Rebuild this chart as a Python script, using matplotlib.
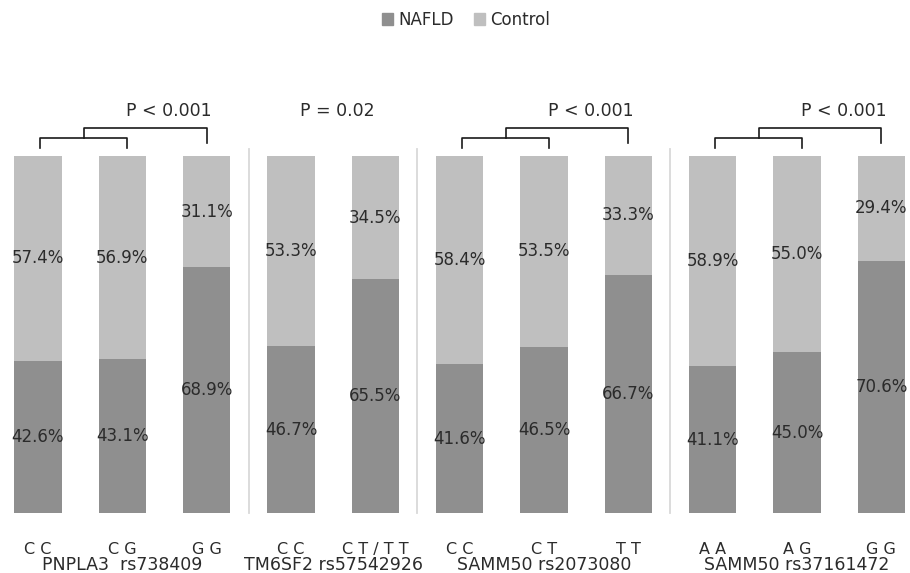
import numpy as np
import matplotlib.pyplot as plt
from matplotlib.patches import Patch

genotypes = ['C C', 'C G', 'G G', 'C C', 'C T / T T', 'C C', 'C T', 'T T', 'A A', 'A G', 'G G']
nafld = [42.6, 43.1, 68.9, 46.7, 65.5, 41.6, 46.5, 66.7, 41.1, 45.0, 70.6]
control = [57.4, 56.9, 31.1, 53.3, 34.5, 58.4, 53.5, 33.3, 58.9, 55.0, 29.4]
snps = ['PNPLA3  rs738409', 'TM6SF2 rs57542926', 'SAMM50 rs2073080', 'SAMM50 rs37161472']
group_sizes = [3, 2, 3, 3]
p_values = ['P < 0.001', 'P = 0.02', 'P < 0.001', 'P < 0.001']

c_nafld = '#8f8f8f'
c_control = '#bfbfbf'
c_text = '#2b2b2b'

plt.rcParams['font.family'] = 'DejaVu Sans'

fig = plt.figure(figsize=(9.10, 5.73), dpi=100)
ax = fig.add_axes([0, 1 - 513 / 573, 1, 357 / 573])

x = np.arange(len(nafld))
ax.bar(x, nafld, width=0.56, color=c_nafld)
ax.bar(x, control, width=0.56, bottom=nafld, color=c_control)

for xi, n, c in zip(x, nafld, control):
    ax.text(xi, n / 2, f'{n:.1f}%', ha='center', va='center', fontsize=12, color=c_text)
    ax.text(xi, n + c / 2, f'{c:.1f}%', ha='center', va='center', fontsize=12, color=c_text)

ax.set_xlim(-0.45, 10.34)
ax.set_ylim(0, 100)
ax.axis('off')

# genotype labels under each bar
for xi, g in zip(x, genotypes):
    ax.text(xi, -10.1, g, ha='center', va='center', fontsize=11.5, color=c_text, clip_on=False)

starts = np.cumsum([0] + group_sizes[:-1])
for s, size, snp, p in zip(starts, group_sizes, snps, p_values):
    idx = list(range(s, s + size))
    center = (idx[0] + idx[-1]) / 2
    ax.text(center, -14.6, snp, ha='center', va='center',
            fontsize=12.5, color=c_text, clip_on=False)

    # group separator
    if s > 0:
        ax.plot([s - 0.5, s - 0.5], [0, 102], color='#d9d9d9', lw=1.3, clip_on=False)

    if size == 3:
        a, b, c = x[idx[0]] + 0.03, x[idx[1]] + 0.06, x[idx[2]]
        lo, mid = 102.2, 105.0
        ax.plot([a, a, b, b], [lo, mid, mid, lo], color='#1a1a1a', lw=1.2, clip_on=False)
        m = (a + b) / 2
        ax.plot([m, m, c, c], [mid, 107.9, 107.9, 103.6], color='#1a1a1a', lw=1.2, clip_on=False)
        ax.text(c - 0.45, 112.6, p, ha='center', va='center', fontsize=12.5, color=c_text, clip_on=False)
    else:
        ax.text(center + 0.05, 112.6, p, ha='center', va='center', fontsize=12.5, color=c_text, clip_on=False)

handles = [Patch(color=c_nafld, label='NAFLD'), Patch(color=c_control, label='Control')]
fig.legend(handles=handles, loc='center', bbox_to_anchor=(466 / 910, 1 - 20 / 573), ncol=2,
           frameon=False, fontsize=12, handlelength=0.7, handleheight=0.7,
           handletextpad=0.3, columnspacing=1.2, labelcolor=c_text)

fig.savefig('out.png', dpi=100)
